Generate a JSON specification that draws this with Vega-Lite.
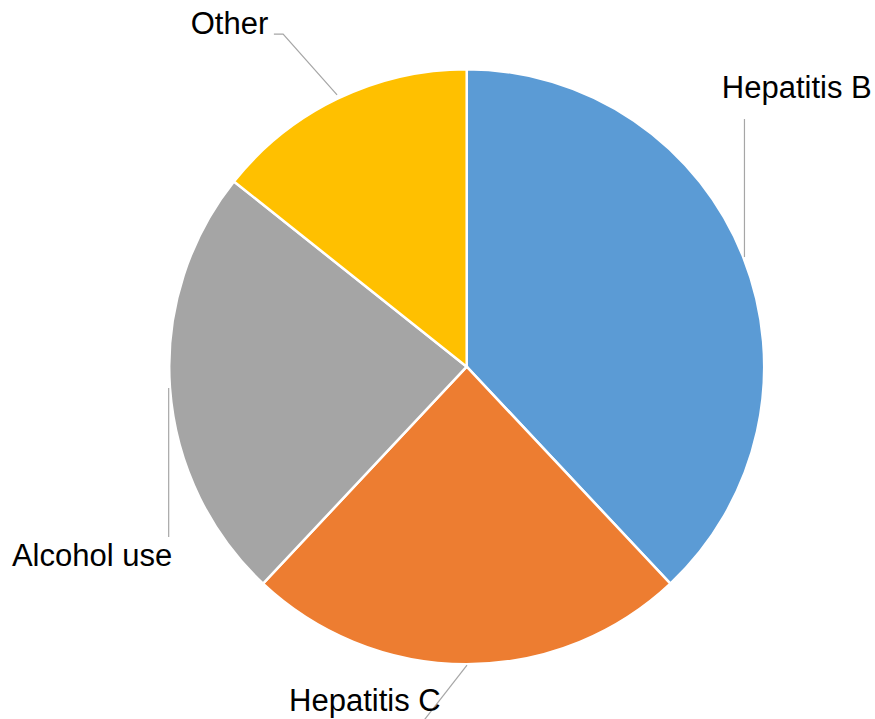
{
  "$schema": "https://vega.github.io/schema/vega-lite/v6.json",
  "width": 875,
  "height": 719,
  "padding": 0,
  "autosize": {"type": "none"},
  "background": "white",
  "view": {"stroke": null},
  "config": {"font": "Liberation Sans"},
  "datasets": {
    "causes": [
      {"cause": "Hepatitis B", "share": 38.0, "order": 1},
      {"cause": "Hepatitis C", "share": 24.0, "order": 2},
      {"cause": "Alcohol use", "share": 23.7, "order": 3},
      {"cause": "Other", "share": 14.3, "order": 4}
    ],
    "leaders": [
      {"cause": "Hepatitis B", "step": 1, "x": 93.2, "y": 83.1},
      {"cause": "Hepatitis B", "step": 2, "x": 93.2, "y": 36.8},
      {"cause": "Other", "step": 1, "x": -64.7, "y": 111.6},
      {"cause": "Other", "step": 2, "x": -61.6, "y": 111.6},
      {"cause": "Other", "step": 3, "x": -43.5, "y": 91.2},
      {"cause": "Alcohol use", "step": 1, "x": -100.0, "y": -7.1},
      {"cause": "Alcohol use", "step": 2, "x": -100.0, "y": -57.1},
      {"cause": "Hepatitis C", "step": 1, "x": 0.1, "y": -100.1},
      {"cause": "Hepatitis C", "step": 2, "x": -15.0, "y": -119.5}
    ],
    "labels": [
      {"cause": "Hepatitis B", "x": 85.6, "y": 90.0},
      {"cause": "Other", "x": -92.6, "y": 111.6},
      {"cause": "Alcohol use", "x": -152.6, "y": -66.9},
      {"cause": "Hepatitis C", "x": -59.6, "y": -115.5}
    ]
  },
  "layer": [
    {
      "data": {"name": "causes"},
      "mark": {"type": "arc", "radius": 297.5, "stroke": "white", "strokeWidth": 2.5},
      "encoding": {
        "x": {"datum": 0, "type": "quantitative", "scale": {"domain": [-156.6, 137.0], "nice": false, "zero": false}, "axis": null},
        "y": {"datum": 0, "type": "quantitative", "scale": {"domain": [-118.2, 123.05], "nice": false, "zero": false}, "axis": null},
        "theta": {"field": "share", "type": "quantitative", "stack": true},
        "order": {"field": "order", "type": "quantitative"},
        "color": {
          "field": "cause",
          "type": "nominal",
          "scale": {
            "domain": ["Hepatitis B", "Hepatitis C", "Alcohol use", "Other"],
            "range": ["#5B9BD5", "#ED7D31", "#A5A5A5", "#FFC000"]
          },
          "legend": null
        }
      }
    },
    {
      "data": {"name": "leaders"},
      "mark": {"type": "line", "color": "#A6A6A6", "strokeWidth": 1.2, "clip": true},
      "encoding": {
        "x": {"field": "x", "type": "quantitative", "axis": null},
        "y": {"field": "y", "type": "quantitative", "axis": null},
        "detail": {"field": "cause", "type": "nominal"},
        "order": {"field": "step", "type": "quantitative"}
      }
    },
    {
      "data": {"name": "labels"},
      "mark": {"type": "text", "align": "left", "baseline": "alphabetic", "fontSize": 31, "color": "#000000"},
      "encoding": {
        "x": {"field": "x", "type": "quantitative", "axis": null},
        "y": {"field": "y", "type": "quantitative", "axis": null},
        "text": {"field": "cause", "type": "nominal"}
      }
    }
  ]
}
